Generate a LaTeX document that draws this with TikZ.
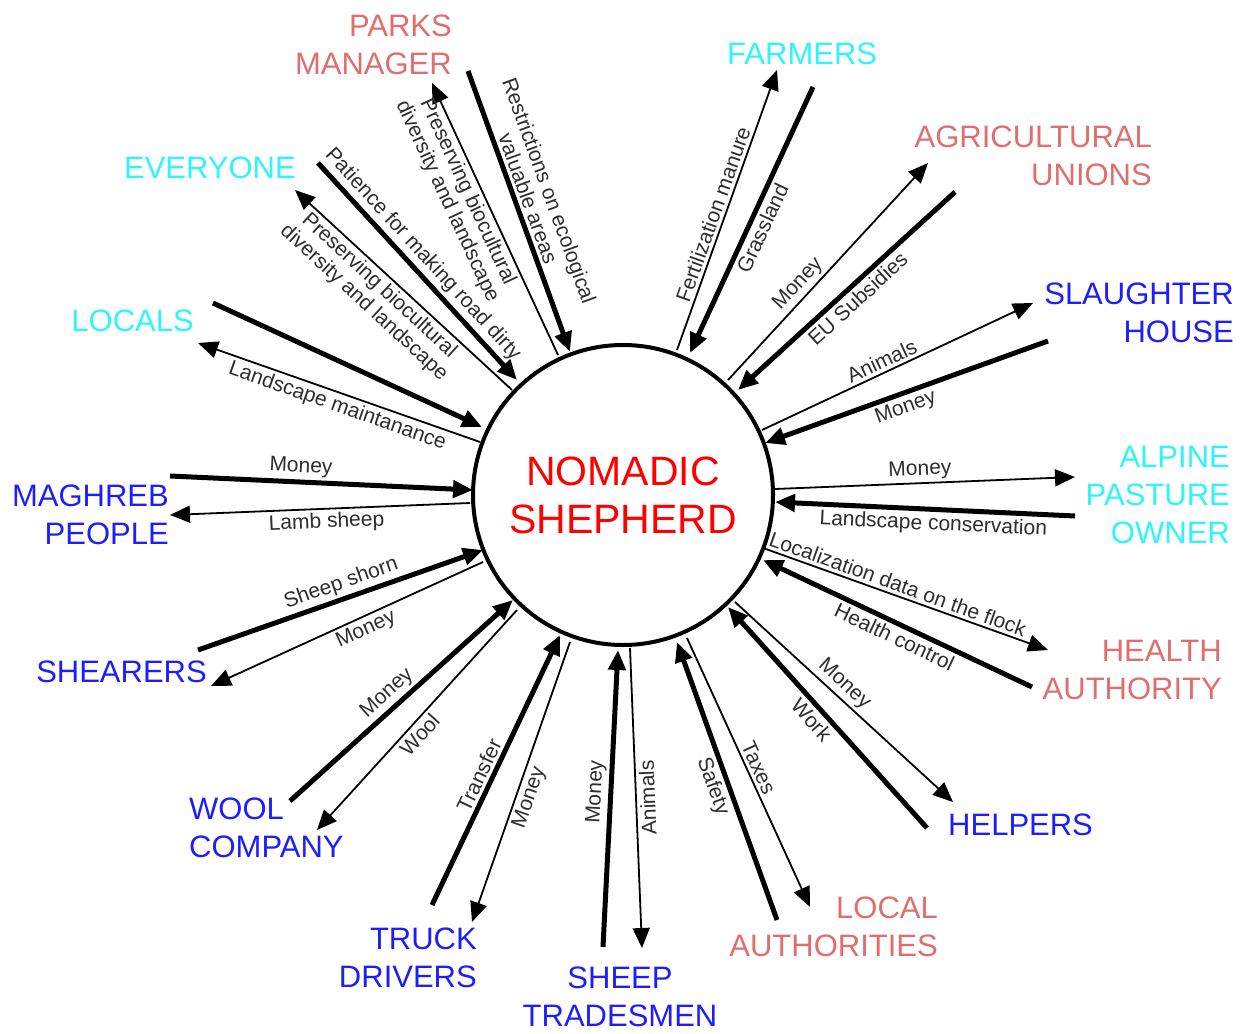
\documentclass[tikz,border=0pt]{standalone}
\usepackage{fontspec}
\setmainfont{Liberation Sans}
\usetikzlibrary{arrows.meta}
\definecolor{salmonx}{RGB}{224,110,110}
\definecolor{cyanx}{RGB}{45,245,250}
\definecolor{bluex}{RGB}{30,30,250}
\definecolor{redx}{RGB}{255,0,0}
\definecolor{labx}{RGB}{45,45,45}
\begin{document}
\begin{tikzpicture}[x=1pt,y=-1pt,
  >={Triangle[length=20pt,width=17pt]},
  bigline/.style={line width=5pt},
  smallline/.style={line width=1.8pt},
  lbl/.style={font=\fontsize{21}{22.5}\selectfont, text=labx, sloped, inner sep=3pt, align=center},
  ent/.style={font=\fontsize{31}{38}\selectfont, inner sep=0pt},
]
\useasboundingbox (0,0) rectangle (1247,1033);

\node[circle, draw, line width=4pt, minimum size=300pt, inner sep=0pt,
      font=\fontsize{41}{48}\selectfont, text=redx, align=center] (ns) at (623,495) {NOMADIC\\SHEPHERD};

% entity labels
\node[ent, text=salmonx, align=right, anchor=north east] (pm) at (452,15) {PARKS\\MANAGER};
\node[ent, text=cyanx, anchor=north east] (ev) at (296,157) {EVERYONE};
\node[ent, text=cyanx, anchor=north east] (lo) at (194,310) {LOCALS};
\node[ent, text=bluex, align=right, anchor=north east] (mg) at (169,485) {MAGHREB\\PEOPLE};
\node[ent, text=bluex, anchor=north east] (sh) at (207,661) {SHEARERS};
\node[ent, text=bluex, align=left, anchor=north west] (wc) at (189,798) {WOOL\\COMPANY};
\node[ent, text=bluex, align=right, anchor=north east] (td) at (477,928) {TRUCK\\DRIVERS};
\node[ent, text=bluex, align=center, anchor=north] (st) at (620,967) {SHEEP\\TRADESMEN};
\node[ent, text=salmonx, align=right, anchor=north east] (la) at (938,897) {LOCAL\\AUTHORITIES};
\node[ent, text=bluex, anchor=north west] (he) at (948,814) {HELPERS};
\node[ent, text=salmonx, align=right, anchor=north east] (ha) at (1222,640) {HEALTH\\AUTHORITY};
\node[ent, text=cyanx, align=right, anchor=north east] (ap) at (1230,446) {ALPINE\\PASTURE\\OWNER};
\node[ent, text=bluex, align=right, anchor=north east] (sl) at (1234,283) {SLAUGHTER\\HOUSE};
\node[ent, text=salmonx, align=right, anchor=north east] (au) at (1152,126) {AGRICULTURAL\\UNIONS};
\node[ent, text=cyanx, anchor=north west] (fa) at (727,43) {FARMERS};

% endpoints
\coordinate (pm1) at (558,355); \coordinate (pm2) at (432,83);
\coordinate (pm3) at (468,71);  \coordinate (pm4) at (570,352);
\coordinate (ev1) at (512,390); \coordinate (ev2) at (295,190);
\coordinate (ev3) at (318,163); \coordinate (ev4) at (517,380);
\coordinate (lo3) at (213,303); \coordinate (lo4) at (482,427);
\coordinate (lo1) at (480,442); \coordinate (lo2) at (198,343);
\coordinate (mg3) at (170,476); \coordinate (mg4) at (473,490);
\coordinate (mg1) at (470,503); \coordinate (mg2) at (170,515);
\coordinate (sh3) at (198,650); \coordinate (sh4) at (483,550);
\coordinate (sh1) at (483,562); \coordinate (sh2) at (211,686);
\coordinate (wc3) at (290,801); \coordinate (wc4) at (513,600);
\coordinate (wc1) at (517,610); \coordinate (wc2) at (317,830);
\coordinate (td3) at (432,905); \coordinate (td4) at (560,635);
\coordinate (td1) at (570,642); \coordinate (td2) at (472,922);
\coordinate (st3) at (603,947); \coordinate (st4) at (618,650);
\coordinate (st1) at (630,648); \coordinate (st2) at (642,948);
\coordinate (la3) at (777,920); \coordinate (la4) at (677,642);
\coordinate (la1) at (687,638); \coordinate (la2) at (810,907);
\coordinate (he3) at (927,828); \coordinate (he4) at (728,607);
\coordinate (he1) at (735,602); \coordinate (he2) at (953,802);
\coordinate (ha3) at (1032,687); \coordinate (ha4) at (763,560);
\coordinate (ha1) at (763,548); \coordinate (ha2) at (1048,650);
\coordinate (ap1) at (775,489); \coordinate (ap2) at (1075,477);
\coordinate (ap3) at (1075,516); \coordinate (ap4) at (775,502);
\coordinate (sl1) at (762,430); \coordinate (sl2) at (1033,303);
\coordinate (sl3) at (1048,341); \coordinate (sl4) at (765,443);
\coordinate (au1) at (728,380); \coordinate (au2) at (928,163);
\coordinate (au3) at (955,192); \coordinate (au4) at (738,390);
\coordinate (fa1) at (677,350); \coordinate (fa2) at (777,70);
\coordinate (fa3) at (813,87);  \coordinate (fa4) at (690,353);

% connectors
\draw[smallline,->] (pm1) -- node[lbl,pos=.62,below]{Preserving biocultural\\diversity and landscape} (pm2);
\draw[bigline,->] (pm3) -- node[lbl,pos=.47,above]{Restrictions on ecological\\valuable areas} (pm4);
\draw[smallline,->] (ev1) -- node[lbl,pos=.57,below]{Preserving biocultural\\diversity and landscape} (ev2);
\draw[bigline,->] (ev3) -- node[lbl,pos=.47,above]{Patience for making road dirty} (ev4);
\draw[bigline,->] (lo3) -- (lo4);
\draw[smallline,->] (lo1) -- node[lbl,pos=.49,below]{Landscape maintanance} (lo2);
\draw[bigline,->] (mg3) -- node[lbl,pos=.43,above]{Money} (mg4);
\draw[smallline,->] (mg1) -- node[lbl,pos=.48,below]{Lamb sheep} (mg2);
\draw[bigline,->] (sh3) -- node[lbl,pos=.52,above]{Sheep shorn} (sh4);
\draw[smallline,->] (sh1) -- node[lbl,pos=.45,below]{Money} (sh2);
\draw[bigline,->] (wc3) -- node[lbl,pos=.48,above]{Money} (wc4);
\draw[smallline,->] (wc1) -- node[lbl,pos=.53,below]{Wool} (wc2);
\draw[bigline,->] (td3) -- node[lbl,pos=.46,above]{Transfer} (td4);
\draw[smallline,->] (td1) -- node[lbl,pos=.54,below]{Money} (td2);
\draw[bigline,->] (st3) -- node[lbl,pos=.52,above]{Money} (st4);
\draw[smallline,<-] (st2) -- node[lbl,pos=.5,below,allow upside down]{Animals} (st1);
\draw[bigline,->] (la3) -- node[lbl,pos=.5,below]{Safety} (la4);
\draw[smallline,->] (la1) -- node[lbl,pos=.5,above]{Taxes} (la2);
\draw[bigline,->] (he3) -- node[lbl,pos=.53,below]{Work} (he4);
\draw[smallline,->] (he1) -- node[lbl,pos=.46,above]{Money} (he2);
\draw[bigline,->] (ha3) -- node[lbl,pos=.49,below]{Health control} (ha4);
\draw[smallline,->] (ha1) -- node[lbl,pos=.46,above]{Localization data on the flock} (ha2);
\draw[smallline,->] (ap1) -- node[lbl,pos=.485,above]{Money} (ap2);
\draw[bigline,->] (ap3) -- node[lbl,pos=.47,below]{Landscape conservation} (ap4);
\draw[smallline,->] (sl1) -- node[lbl,pos=.46,above]{Animals} (sl2);
\draw[bigline,->] (sl3) -- node[lbl,pos=.52,below]{Money} (sl4);
\draw[smallline,->] (au1) -- node[lbl,pos=.40,above]{Money} (au2);
\draw[bigline,->] (au3) -- node[lbl,pos=.49,below]{EU Subsidies} (au4);
\draw[smallline,->] (fa1) -- node[lbl,pos=.47,above]{Fertilization manure} (fa2);
\draw[bigline,->] (fa3) -- node[lbl,pos=.51,below]{Grassland} (fa4);
\end{tikzpicture}
\end{document}
